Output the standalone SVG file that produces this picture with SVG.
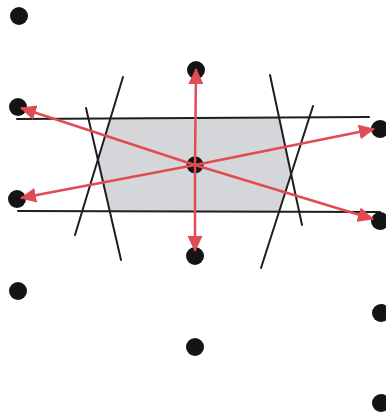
<svg xmlns="http://www.w3.org/2000/svg" width="386" height="415" viewBox="0 0 386 415">
<style>
.dot{fill:#141414}
.ln{stroke:#1e1e1e;stroke-width:2;fill:none;stroke-linecap:round}
.arr{stroke:#e04c52;stroke-width:2.5;fill:none;marker-end:url(#ah)}
</style>
<defs>
<marker id="ah" viewBox="0 0 16 15" refX="15" refY="7.5" markerWidth="16" markerHeight="15" markerUnits="userSpaceOnUse" orient="auto">
<path d="M0,0 L16,7.5 L0,15 Z" fill="#e04c52"/>
</marker>
</defs>
<rect width="386" height="415" fill="#ffffff"/>
<polygon points="110,118 98,158 110,211 279,211 291,174 279,118" fill="#d4d6da"/>
<g id="lines">
<line class="ln" x1="17" y1="119" x2="369" y2="117"/>
<line class="ln" x1="18" y1="211" x2="380" y2="212"/>
<line class="ln" x1="123" y1="77" x2="75" y2="235"/>
<line class="ln" x1="86" y1="108" x2="121" y2="260"/>
<line class="ln" x1="270" y1="75" x2="302" y2="225"/>
<line class="ln" x1="313" y1="106" x2="261" y2="268"/>
</g>
<g id="n1"><circle class="dot" cx="19" cy="16" r="9"/></g>
<g id="n2"><circle class="dot" cx="196" cy="70" r="9"/></g>
<g id="n3"><circle class="dot" cx="18" cy="107" r="9"/></g>
<g id="n4"><circle class="dot" cx="380" cy="129" r="9"/></g>
<g id="n5"><circle class="dot" cx="195" cy="165" r="8.5"/></g>
<g id="n6"><circle class="dot" cx="17" cy="199" r="9"/></g>
<g id="n7"><circle class="dot" cx="380" cy="221" r="9"/></g>
<g id="n8"><circle class="dot" cx="195" cy="256" r="9"/></g>
<g id="n9"><circle class="dot" cx="18" cy="291" r="9"/></g>
<g id="n10"><circle class="dot" cx="381" cy="313" r="9"/></g>
<g id="n11"><circle class="dot" cx="195" cy="347" r="9"/></g>
<g id="n12"><circle class="dot" cx="381" cy="403" r="9"/></g>
<g id="connectors">
<line class="arr" x1="195" y1="165" x2="196" y2="69"/>
<line class="arr" x1="195" y1="165" x2="195" y2="251"/>
<line class="arr" x1="195" y1="165" x2="21" y2="108"/>
<line class="arr" x1="195" y1="165" x2="21" y2="198"/>
<line class="arr" x1="195" y1="165" x2="374" y2="129"/>
<line class="arr" x1="195" y1="165" x2="373" y2="219"/>
</g>
</svg>
